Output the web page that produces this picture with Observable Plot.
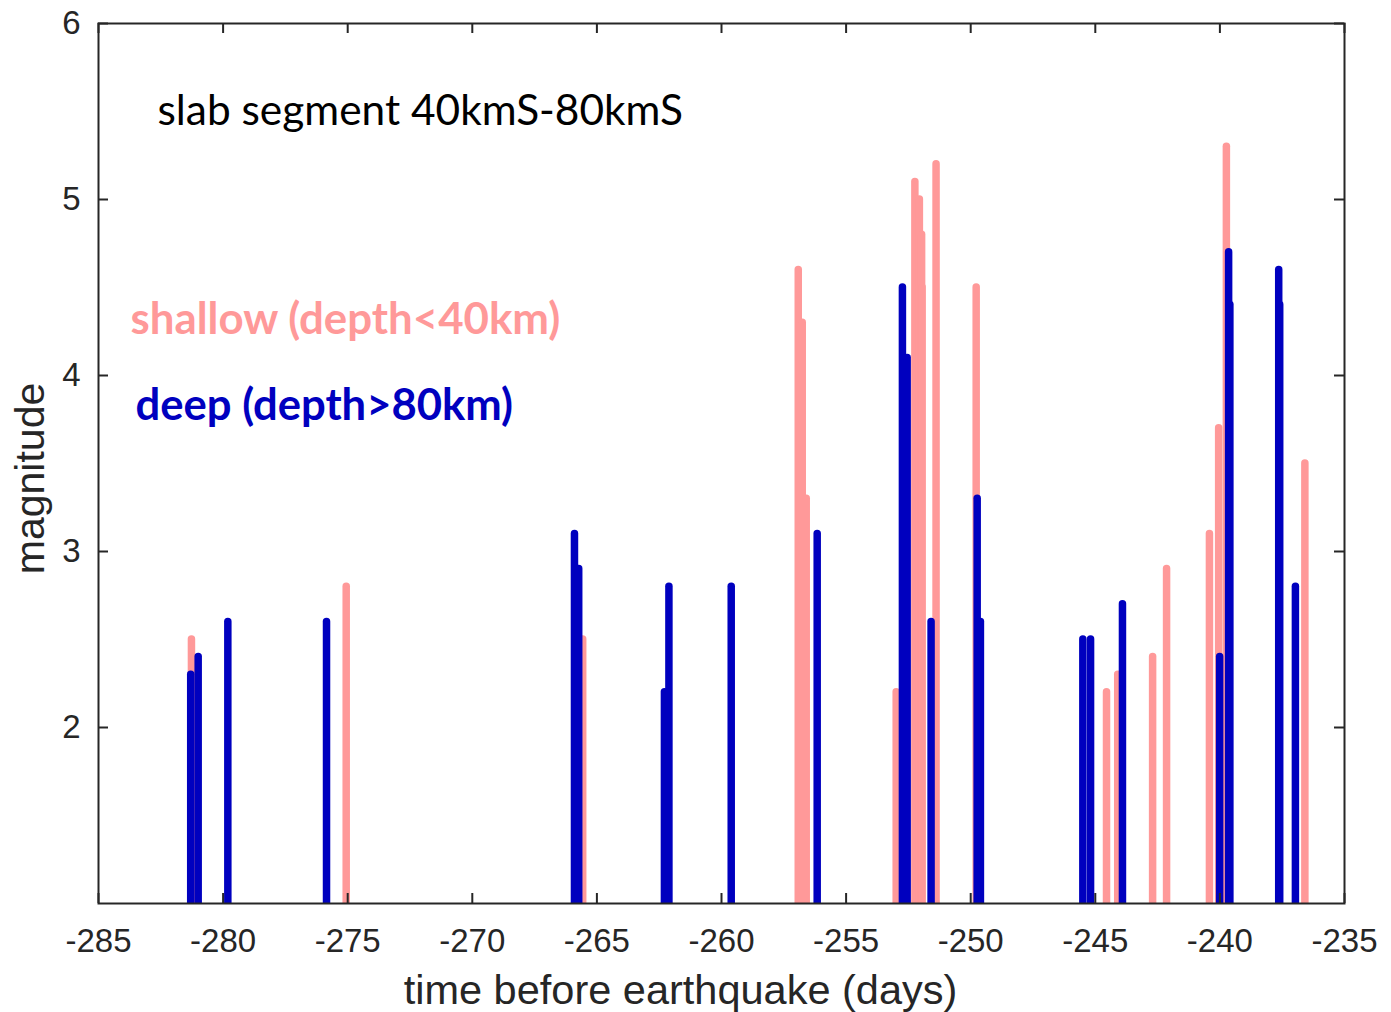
<!DOCTYPE html>
<html>
<head>
<meta charset="utf-8">
<script src="https://cdn.jsdelivr.net/npm/d3@7"></script>
<script src="https://cdn.jsdelivr.net/npm/@observablehq/plot@0.6"></script>
<style>
  html, body { margin: 0; padding: 0; background: #fff; }
  #chart svg { display: block; }
</style>
</head>
<body>
<div id="chart"></div>
<script>
// ---- data ----
const shallowTime = [-281.27, -275.06, -265.57, -256.92, -256.76, -256.60, -252.99, -252.24, -252.06, -251.97, -251.95, -251.39, -249.78, -244.55, -244.10, -242.70, -242.14, -240.42, -240.05, -239.74, -236.59];
const shallowMag  = [2.5, 2.8, 2.5, 4.6, 4.3, 3.3, 2.2, 5.1, 5.0, 4.8, 4.5, 5.2, 4.5, 2.2, 2.3, 2.4, 2.9, 3.1, 3.7, 5.3, 3.5];
const deepTime = [-281.30, -281.00, -279.81, -275.85, -265.90, -265.73, -262.29, -262.11, -259.61, -256.16, -252.74, -252.55, -251.59, -249.74, -249.61, -245.50, -245.19, -243.91, -240.01, -239.65, -239.60, -237.64, -237.60, -236.97];
const deepMag  = [2.3, 2.4, 2.6, 2.6, 3.1, 2.9, 2.2, 2.8, 2.8, 3.1, 4.5, 4.1, 2.6, 3.3, 2.6, 2.5, 2.5, 2.7, 2.4, 4.7, 4.4, 4.6, 4.4, 2.8];
const xTicks = [-285, -280, -275, -270, -265, -260, -255, -250, -245, -240, -235];
const yTicks = [2, 3, 4, 5, 6];
const titleText = "slab segment 40kmS-80kmS";
const shallowLabel = "shallow (depth<40km)";
const deepLabel = "deep (depth>80km)";
const xLabel = "time before earthquake (days)";
const yLabel = "magnitude";

const shallow = shallowTime.map((t, i) => ({t, m: shallowMag[i]}));
const deep = deepTime.map((t, i) => ({t, m: deepMag[i]}));

const PINK = "#FF9999";
const BLUE = "#0000BF";
const INK = "#262626";
const W = 1391, H = 1012;
const mL = 98, mR = 47, mT = 23, mB = 109;
const frameH = H - mT - mB;
const frameW = W - mL - mR;
const fmt = d => String(d);

const chart = Plot.plot({
  width: W,
  height: H,
  marginLeft: mL,
  marginRight: mR,
  marginTop: mT,
  marginBottom: mB,
  style: {fontFamily: "'Liberation Sans', Arial, sans-serif", color: INK, background: "#fff"},
  x: {domain: [-285, -235]},
  y: {domain: [1, 6]},
  marks: [
    Plot.ruleX(shallow, {x: "t", y1: 1, y2: "m", stroke: PINK, strokeWidth: 7.5, strokeLinecap: "round", clip: true}),
    Plot.ruleX(deep, {x: "t", y1: 1, y2: "m", stroke: BLUE, strokeWidth: 7.5, strokeLinecap: "round", clip: true}),
    Plot.frame({stroke: INK, strokeWidth: 2}),
    // inward ticks
    Plot.tickX(xTicks, {x: d => d, insetTop: frameH - 10, stroke: INK, strokeWidth: 2}),
    Plot.tickX(xTicks, {x: d => d, insetBottom: frameH - 10, stroke: INK, strokeWidth: 2}),
    Plot.tickY(yTicks, {y: d => d, insetRight: frameW - 10, stroke: INK, strokeWidth: 2}),
    Plot.tickY(yTicks, {y: d => d, insetLeft: frameW - 10, stroke: INK, strokeWidth: 2}),
    // tick labels
    Plot.axisX(xTicks, {anchor: "bottom", tickSize: 0, tickPadding: 25, fontSize: 33, label: null, tickFormat: fmt, fill: INK}),
    Plot.axisY(yTicks, {anchor: "left", tickSize: 0, tickPadding: 18, fontSize: 33, label: null, tickFormat: fmt, fill: INK}),
    // axis titles
    Plot.text([xLabel], {text: d => d, frameAnchor: "bottom", dx: -41, dy: 87, fontSize: 41.5, lineAnchor: "middle", fill: INK}),
    Plot.text([yLabel], {text: d => d, frameAnchor: "left", textAnchor: "middle", rotate: -90, dx: -68, dy: 15, fontSize: 41, lineAnchor: "middle", fill: INK}),
    // annotations
    Plot.text([titleText], {text: d => d, frameAnchor: "top-left", textAnchor: "start", lineAnchor: "middle", dx: 59, dy: 88, fontSize: 42.4, fontFamily: "Lato, 'Open Sans', sans-serif", fill: "#000"}),
    Plot.text([shallowLabel], {text: d => d, frameAnchor: "top-left", textAnchor: "start", lineAnchor: "middle", dx: 32, dy: 296, fontSize: 43.8, fontWeight: "bold", fontFamily: "Lato, 'Open Sans', sans-serif", fill: PINK}),
    Plot.text([deepLabel], {text: d => d, frameAnchor: "top-left", textAnchor: "start", lineAnchor: "middle", dx: 37, dy: 383, fontSize: 43.6, fontWeight: "bold", fontFamily: "Lato, 'Open Sans', sans-serif", fill: BLUE})
  ]
});
document.getElementById("chart").appendChild(chart);
</script>
</body>
</html>
